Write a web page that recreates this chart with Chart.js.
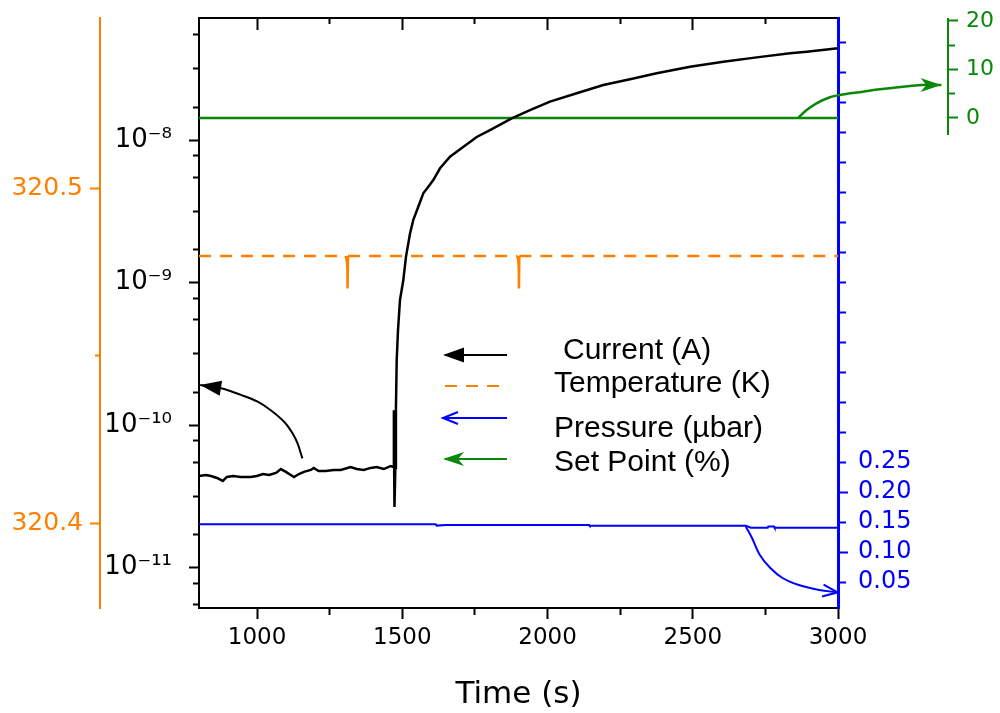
<!DOCTYPE html>
<html>
<head>
<meta charset="utf-8">
<title>Current, temperature, pressure and set point vs time</title>
<script src="https://cdn.jsdelivr.net/npm/chart.js@4.4.1/dist/chart.umd.min.js"></script>
<style>
  html, body { margin: 0; padding: 0; background: #fff; }
  canvas { display: block; }
</style>
</head>
<body>
<canvas id="chart" width="1000" height="713"></canvas>
<script>
// values
const curTime = [800, 824, 841, 862, 882, 896, 917, 944, 979, 999, 1020, 1041, 1065, 1082, 1099, 1116, 1127, 1144,
  1161, 1185, 1195, 1212, 1236, 1264, 1288, 1322, 1343, 1367, 1391, 1412, 1436, 1460, 1470, 1471, 1472, 1473, 1476,
  1478, 1480.7, 1485.2, 1492, 1503.4, 1512.7, 1526.5, 1537.8, 1555, 1572.2, 1589.5, 1606.7, 1629.8, 1664.2, 1687.3,
  1756.1, 1801.9, 1876.6, 1939.6, 2008.5, 2100.4, 2192, 2283.9, 2375.8, 2490.5, 2605.1, 2720.1, 2834.8, 2892.3, 3000];
const curVals = [4.39e-11, 4.46e-11, 4.39e-11, 4.25e-11, 4.05e-11, 4.32e-11, 4.39e-11, 4.32e-11, 4.32e-11, 4.39e-11,
  4.53e-11, 4.46e-11, 4.61e-11, 4.91e-11, 4.69e-11, 4.46e-11, 4.32e-11, 4.53e-11, 4.69e-11, 4.84e-11, 5.0e-11,
  4.76e-11, 4.76e-11, 4.84e-11, 4.84e-11, 5.07e-11, 4.91e-11, 4.84e-11, 5.0e-11, 5.07e-11, 4.91e-11, 5.15e-11,
  5.07e-11, 1.27e-10, 4.6e-11, 2.66e-11, 5.0e-11, 1.3e-10, 2.86e-10, 4.65e-10, 7.54e-10, 1.04e-9, 1.52e-9, 2.21e-9,
  2.75e-9, 3.40e-9, 4.23e-9, 4.70e-9, 5.24e-9, 6.33e-9, 7.64e-9, 8.28e-9, 1.05e-8, 1.175e-8, 1.42e-8, 1.62e-8,
  1.86e-8, 2.13e-8, 2.43e-8, 2.67e-8, 2.94e-8, 3.27e-8, 3.54e-8, 3.80e-8, 4.06e-8, 4.16e-8, 4.40e-8];

const tempTime = [800, 1304, 1309, 1311, 1311.5, 1313, 1896, 1899, 1901, 1901.5, 1903, 3000];
const tempVals = [320.4797, 320.4797, 320.4785, 320.4760, 320.4700, 320.4797,
  320.4797, 320.4785, 320.4760, 320.4700, 320.4797, 320.4797];

const presTime = [800, 1615, 1618, 1650, 2143, 2145, 2683, 2700, 2758, 2760, 2780, 2782, 3000];
const presVals = [0.1462, 0.1462, 0.1440, 0.1450, 0.1450, 0.1438, 0.1438, 0.1405, 0.1405, 0.1425, 0.1425, 0.1405, 0.1405];

const setTime = [800, 3000];
const setVals = [0, 0];

// annotation arrows, in data units of their own axes, listed from the tip back to the tail
const curArrowTime = [804, 876, 944, 1002, 1047, 1093, 1122, 1139, 1156];
const curArrowVals = [1.91e-10, 1.81e-10, 1.626e-10, 1.457e-10, 1.27e-10, 1.054e-10, 8.75e-11, 7.45e-11, 5.83e-11];
const presArrowTime = [2999, 2935, 2865, 2809, 2767, 2731, 2704, 2683];
const presArrowVals = [0.0328, 0.0367, 0.045, 0.0567, 0.0733, 0.095, 0.1233, 0.1422];
const setArrowTime = [3356, 3287, 3224, 3144, 3086, 3006, 2972, 2926, 2892, 2863];
const setArrowVals = [6.8, 6.8, 6.45, 5.92, 5.42, 4.74, 4.27, 3.03, 1.65, 0];

// ticks and tick labels
const xTicks = [1000, 1250, 1500, 1750, 2000, 2250, 2500, 2750, 3000];
const xMajor = [1000, 1500, 2000, 2500, 3000];
const curDecades = [1e-11, 1e-10, 1e-9, 1e-8];
const curDecadeLabels = ['10\u207B\u00B9\u00B9', '10\u207B\u00B9\u2070', '10\u207B\u2079', '10\u207B\u2078'];
const curMinorSteps = [0.23, 0.5, 0.74, 0.89];
const tempTicks = [320.40, 320.45, 320.50];
const tempLabels = ['320.4', '', '320.5'];
const presTicks = [0.05, 0.10, 0.15, 0.20, 0.25, 0.30, 0.35, 0.40, 0.45, 0.50, 0.55, 0.60, 0.65, 0.70, 0.75,
  0.80, 0.85, 0.90, 0.95];
const presLabels = ['0.05', '0.10', '0.15', '0.20', '0.25'];
const presLong = [0.10, 0.20];
const setTicks = [0, 5, 10, 15, 20];
const setLabels = ['0', '', '10', '', '20'];

const legendLabels = ['Current (A)', 'Temperature (K)', 'Pressure (\u00B5bar)', 'Set Point (%)'];

const BLACK = '#000000';
const ORANGE = '#ff8000';
const BLUE = '#0000ff';
const GREEN = '#0b870b';

const CUR_MIN = 5.2e-12;
const CUR_MAX = 7.18e-8;

// log axis ticks: decades plus the uneven minor marks of the original
const curTicks = [];
for (let d = -12; d <= -8; d++) {
  curTicks.push(Math.pow(10, d));
  curMinorSteps.forEach(s => curTicks.push(Math.pow(10, d + s)));
}
const curTicksShown = curTicks.filter(v => v >= CUR_MIN && v <= CUR_MAX);

function pts(xs, ys) {
  return xs.map((x, i) => ({ x: x, y: ys[i] }));
}
function near(a, b) {
  return Math.abs(a - b) < 1e-9;
}
function isDecade(v) {
  const l = Math.log10(v);
  return Math.abs(l - Math.round(l)) < 1e-6;
}
// fixed box sizes so the plot sits where the original one does
function box(w, h) {
  return function (s) {
    if (w !== null) s.width = w;
    if (h !== null) s.height = h;
    s.paddingTop = s.paddingBottom = s.paddingLeft = s.paddingRight = 0;
  };
}

function drawHead(c, x, y, ang, kind, col) {
  c.save();
  c.translate(x, y);
  c.rotate(ang);
  c.fillStyle = col;
  c.strokeStyle = col;
  c.lineWidth = 2;
  c.beginPath();
  if (kind === 'open') {
    c.moveTo(-15, -6);
    c.lineTo(0, 0);
    c.lineTo(-15, 6);
    c.stroke();
  } else if (kind === 'notch') {
    c.moveTo(0, 0);
    c.lineTo(-21, -7);
    c.lineTo(-15, 0);
    c.lineTo(-21, 7);
    c.closePath();
    c.fill();
  } else {
    c.moveTo(0, 0);
    c.lineTo(-21, -7.5);
    c.lineTo(-21, 7.5);
    c.closePath();
    c.fill();
  }
  c.restore();
}

// arrow datasets start at the tip; the head follows the direction of the first segment
const arrowHeads = {
  id: 'arrowHeads',
  afterDatasetsDraw(chart) {
    chart.data.datasets.forEach((ds, i) => {
      if (!ds.head) return;
      const el = chart.getDatasetMeta(i).data;
      const a = el[0];
      const b = el[1];
      drawHead(chart.ctx, a.x, a.y, Math.atan2(a.y - b.y, a.x - b.x), ds.head, ds.borderColor);
    });
  }
};

// the green axis only covers the top of the plot
const shortAxis = {
  id: 'shortAxis',
  afterLayout(chart) {
    const s = chart.scales.ySet;
    s.top = 19;
    s.bottom = 134;
    s.height = 115;
    s.configure();
  }
};

const plotLegend = {
  id: 'plotLegend',
  afterDraw(chart) {
    const c = chart.ctx;
    const rows = [
      { lineY: 355, textY: 351, textX: 563, color: BLACK, kind: 'filled' },
      { lineY: 386, textY: 384, textX: 554, color: ORANGE, kind: 'dash' },
      { lineY: 418, textY: 429, textX: 554, color: BLUE, kind: 'open' },
      { lineY: 459, textY: 463, textX: 554, color: GREEN, kind: 'notch' }
    ];
    c.save();
    rows.forEach((r, i) => {
      c.strokeStyle = r.color;
      c.lineWidth = 2;
      c.setLineDash(r.kind === 'dash' ? [12, 9] : []);
      c.beginPath();
      c.moveTo(445, r.lineY);
      c.lineTo(507, r.lineY);
      c.stroke();
      c.setLineDash([]);
      if (r.kind !== 'dash') drawHead(c, 443, r.lineY, Math.PI, r.kind, r.color);
      c.fillStyle = '#000';
      c.font = '30px "Liberation Sans", Arial, sans-serif';
      c.textBaseline = 'middle';
      c.textAlign = 'left';
      c.fillText(legendLabels[i], r.textX, r.textY);
    });
    c.restore();
  }
};

function line(label, xs, ys, axis, color, width, extra) {
  return Object.assign({
    label: label,
    data: pts(xs, ys),
    xAxisID: 'x',
    yAxisID: axis,
    borderColor: color,
    backgroundColor: color,
    borderWidth: width,
    pointRadius: 0,
    tension: 0,
    fill: false
  }, extra || {});
}

Chart.defaults.font.family = '"DejaVu Sans", Verdana, sans-serif';

new Chart(document.getElementById('chart'), {
  type: 'line',
  data: {
    datasets: [
      line('Current (A)', curTime, curVals, 'yCur', BLACK, 2.5),
      line('', curArrowTime, curArrowVals, 'yCur', BLACK, 2, { tension: 0.35, clip: false, head: 'filled' }),
      line('Set Point (%)', setTime, setVals, 'ySet', GREEN, 2.5),
      line('', setArrowTime, setArrowVals, 'ySet', GREEN, 2.5, { tension: 0.35, clip: false, head: 'notch' }),
      line('Temperature (K)', tempTime, tempVals, 'yTemp', ORANGE, 2.5, {
        borderDash: [12, 9],
        segment: { borderDash: s => (s.p0.parsed.y === s.p1.parsed.y ? [12, 9] : []) }
      }),
      line('Pressure (\u00B5bar)', presTime, presVals, 'yPres', BLUE, 2),
      line('', presArrowTime, presArrowVals, 'yPres', BLUE, 2, { tension: 0.35, clip: false, head: 'open' })
    ]
  },
  options: {
    responsive: false,
    animation: false,
    layout: { padding: { top: 18, left: 0, right: 0, bottom: 0 } },
    elements: { line: { capBezierPoints: false } },
    plugins: { legend: { display: false }, tooltip: { enabled: false } },
    scales: {
      x: {
        type: 'linear', position: 'bottom', min: 800, max: 3000,
        afterBuildTicks: s => { s.ticks = xTicks.map(v => ({ value: v })); },
        afterFit: box(null, 105),
        border: { color: BLACK, width: 2 },
        grid: {
          drawOnChartArea: false, tickLength: 11, tickWidth: 2, tickColor: BLACK,
          tickBorderDash: c => (c.tick && xMajor.includes(c.tick.value) ? [] : [6, 100])
        },
        ticks: {
          autoSkip: false, maxRotation: 0, padding: 5, color: BLACK, font: { size: 23 },
          callback: v => (xMajor.includes(v) ? String(v) : '')
        },
        title: {
          display: true, text: 'Time (s)', color: BLACK,
          font: { size: 31, lineHeight: 1.15 }, padding: { top: 0, bottom: 0 }
        }
      },
      xTop: {
        type: 'linear', position: 'top', min: 800, max: 3000,
        afterBuildTicks: s => { s.ticks = xTicks.map(v => ({ value: v })); },
        afterFit: box(null, 0),
        border: { color: BLACK, width: 2 },
        grid: {
          drawOnChartArea: false, tickLength: -12, tickWidth: 2, tickColor: BLACK,
          tickBorderDash: c => (c.tick && xMajor.includes(c.tick.value) ? [] : [0, 6, 8, 100])
        },
        ticks: { display: false }
      },
      yTemp: {
        type: 'linear', position: 'left', weight: 2, min: 320.37463, max: 320.55075,
        afterBuildTicks: s => { s.ticks = tempTicks.map(v => ({ value: v })); },
        afterFit: box(100, null),
        border: { color: ORANGE, width: 2 },
        grid: {
          drawOnChartArea: false, tickLength: 10, tickWidth: 2, tickColor: ORANGE,
          tickBorderDash: c => (c.tick && near(c.tick.value, 320.45) ? [0, 5, 10, 100] : [])
        },
        ticks: {
          autoSkip: false, padding: 7, color: ORANGE, font: { size: 25 },
          callback: (v, i) => tempLabels[i]
        }
      },
      yCur: {
        type: 'logarithmic', position: 'left', weight: 1, min: CUR_MIN, max: CUR_MAX,
        afterBuildTicks: s => { s.ticks = curTicksShown.map(v => ({ value: v })); },
        afterFit: box(99, null),
        border: { color: BLACK, width: 2 },
        grid: {
          drawOnChartArea: false, tickLength: 10, tickWidth: 2, tickColor: BLACK,
          tickBorderDash: c => (c.tick && !isDecade(c.tick.value) ? [0, 4, 10, 100] : [])
        },
        ticks: {
          autoSkip: false, padding: 17, color: BLACK, font: { size: 26 },
          callback: v => {
            const k = curDecades.findIndex(d => Math.abs(d - v) / d < 1e-6);
            return k >= 0 ? curDecadeLabels[k] : '';
          }
        }
      },
      yPres: {
        type: 'linear', position: 'right', weight: 1, min: 0.0067, max: 0.99,
        afterBuildTicks: s => { s.ticks = presTicks.map(v => ({ value: v })); },
        afterFit: box(110, null),
        border: { color: BLUE, width: 3 },
        grid: {
          drawOnChartArea: false, tickLength: 10, tickWidth: 2, tickColor: BLUE,
          tickBorderDash: c => (c.tick && presLong.some(p => near(p, c.tick.value)) ? [] : [6, 100])
        },
        ticks: {
          autoSkip: false, padding: 10, color: BLUE, font: { size: 24 },
          callback: (v, i) => presLabels[i] || ''
        }
      },
      ySet: {
        type: 'linear', position: 'right', weight: 2, min: -3.3, max: 20.4,
        afterBuildTicks: s => { s.ticks = setTicks.map(v => ({ value: v })); },
        afterFit: box(52, null),
        border: { color: GREEN, width: 2 },
        grid: {
          drawOnChartArea: false, tickLength: 10, tickWidth: 2, tickColor: GREEN,
          tickBorderDash: c => (c.tick && setLabels[c.index] === '' ? [6, 100] : [])
        },
        ticks: {
          autoSkip: false, padding: 8, color: GREEN, font: { size: 22 },
          callback: (v, i) => setLabels[i]
        }
      }
    }
  },
  plugins: [shortAxis, arrowHeads, plotLegend]
});
</script>
</body>
</html>
